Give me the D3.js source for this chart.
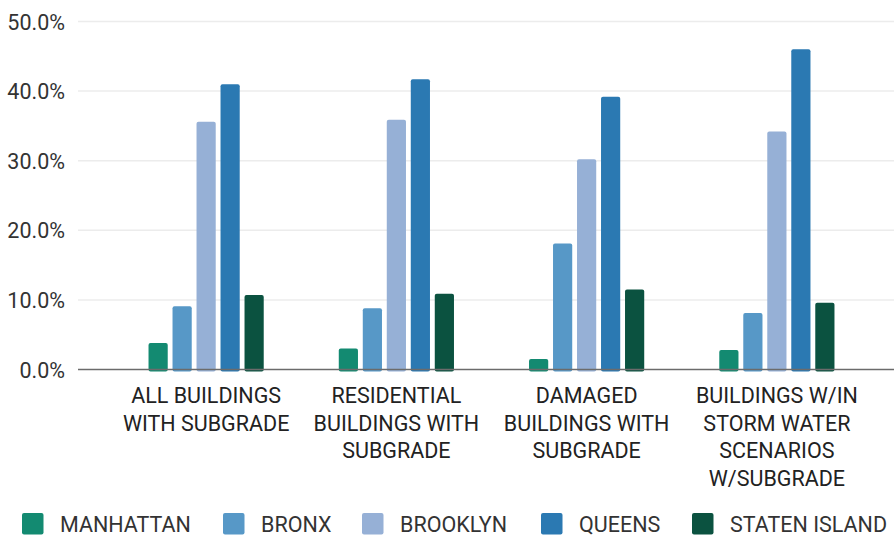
<!DOCTYPE html>
<html>
<head>
<meta charset="utf-8">
<script src="https://cdn.jsdelivr.net/npm/d3@7"></script>
<style>
  html, body { margin: 0; padding: 0; background: #fff; }
  svg { display: block; font-family: Roboto, "Noto Sans", sans-serif; }
</style>
</head>
<body>
<svg id="chart" width="894" height="536"></svg>
<script>
// Share of buildings with subgrade space, by borough
const categories = [
  ["ALL BUILDINGS", "WITH SUBGRADE"],
  ["RESIDENTIAL", "BUILDINGS WITH", "SUBGRADE"],
  ["DAMAGED", "BUILDINGS WITH", "SUBGRADE"],
  ["BUILDINGS W/IN", "STORM WATER", "SCENARIOS", "W/SUBGRADE"]
];
const boroughs = ["MANHATTAN", "BRONX", "BROOKLYN", "QUEENS", "STATEN ISLAND"];
const manhattan = [3.8, 3.0, 1.5, 2.8];
const bronx     = [9.1, 8.8, 18.1, 8.1];
const brooklyn  = [35.6, 35.9, 30.2, 34.2];
const queens    = [41.0, 41.7, 39.2, 46.0];
const staten    = [10.7, 10.9, 11.5, 9.6];
const yTicks = [0, 10, 20, 30, 40, 50];
const colors = ["#138a71", "#5798c7", "#96b0d6", "#2b79b2", "#0b5240"];

const series = [manhattan, bronx, brooklyn, queens, staten];
const svg = d3.select("#chart");

const y = d3.scaleLinear().domain([0, 50]).range([369.5, 21.5]);
const x0 = d3.scaleBand().domain(d3.range(categories.length)).range([111, 872]);
const x1 = d3.scaleBand().domain(d3.range(boroughs.length)).range([-60, 60])
  .paddingInner(0.2).paddingOuter(0.1);

// horizontal gridlines
svg.append("g").selectAll("line").data(yTicks.filter(t => t > 0)).join("line")
  .attr("x1", 78).attr("x2", 894)
  .attr("y1", d => y(d)).attr("y2", d => y(d))
  .attr("stroke", "#ececec").attr("stroke-width", 1.5);

// y axis labels
const yAxis = d3.axisLeft(y).tickValues(yTicks).tickSize(0).tickPadding(0)
  .tickFormat(d => d.toFixed(1) + "%");
const ya = svg.append("g").attr("transform", "translate(65,0)").call(yAxis);
ya.select(".domain").remove();
ya.selectAll("text").attr("font-size", 21.5).attr("fill", "#333")
  .attr("font-family", "Roboto, sans-serif").attr("dy", "0.35em");

// bars
const groups = svg.append("g").selectAll("g").data(categories).join("g")
  .attr("transform", (d, i) => `translate(${x0(i) + x0.bandwidth() / 2},0)`);
groups.selectAll("rect")
  .data((d, i) => series.map((s, k) => ({ k, v: s[i] })))
  .join("rect")
  .attr("x", d => x1(d.k))
  .attr("width", x1.bandwidth())
  .attr("y", d => y(d.v))
  .attr("height", d => y(0) - y(d.v) + 2)
  .attr("rx", 2)
  .attr("fill", d => colors[d.k]);

// baseline
svg.append("line").attr("x1", 78).attr("x2", 894)
  .attr("y1", y(0)).attr("y2", y(0))
  .attr("stroke", "#6b6b6b").attr("stroke-width", 1.5);

// category labels
groups.append("text")
  .attr("text-anchor", "middle").attr("font-size", 21.5).attr("fill", "#222")
  .selectAll("tspan").data(d => d).join("tspan")
  .attr("x", 0)
  .attr("y", (d, j) => 403 + j * 27.7)
  .text(d => d);

// legend
const legendX = [22, 223, 362, 541, 692];
const lg = svg.append("g").selectAll("g").data(boroughs).join("g")
  .attr("transform", (d, i) => `translate(${legendX[i]},513)`);
lg.append("rect").attr("width", 21.5).attr("height", 21.5).attr("rx", 2)
  .attr("fill", (d, i) => colors[i]);
lg.append("text").attr("x", 38).attr("y", 19).attr("font-size", 21.5)
  .attr("fill", "#333").text(d => d);
</script>
</body>
</html>
